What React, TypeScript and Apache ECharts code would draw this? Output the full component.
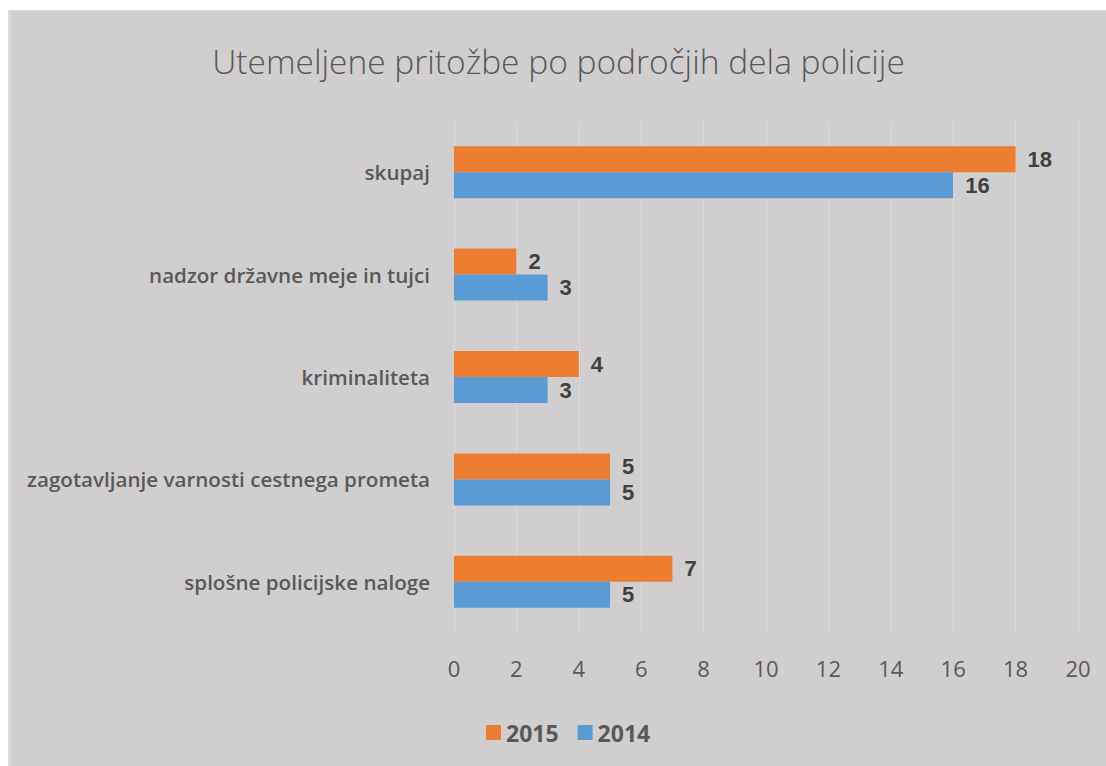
import React, { useEffect, useRef } from "react";
import * as echarts from "echarts";

const categories = [
  "splošne policijske naloge",
  "zagotavljanje varnosti cestnega prometa",
  "kriminaliteta",
  "nadzor državne meje in tujci",
  "skupaj",
];
const values2015 = [7, 5, 4, 2, 18];
const values2014 = [5, 5, 3, 3, 16];
const xTicks = { min: 0, max: 20, interval: 2 };

export default function App() {
  const ref = useRef<HTMLDivElement>(null);
  useEffect(() => {
    if (!ref.current) return;
    const chart = echarts.init(ref.current, null, { renderer: "svg" });
    const font = "'Open Sans', 'Noto Sans', sans-serif";
    const labelStyle = {
      show: true,
      position: "right" as const,
      distance: 12,
      color: "#404040",
      fontSize: 22,
      lineHeight: 24,
      fontWeight: "bold" as const,
      fontFamily: "'Liberation Sans', Arial, sans-serif",
    };
    chart.setOption({
      animation: false,
      backgroundColor: "#d0cece",
      title: {
        text: "Utemeljene pritožbe po področjih dela policije",
        left: "center",
        top: 28,
        textStyle: {
          color: "#595959",
          fontSize: 33.5,
          fontWeight: 300,
          fontFamily: font,
        },
      },
      legend: {
        data: ["2015", "2014"],
        top: 705,
        left: 470,
        itemWidth: 15,
        itemHeight: 15,
        itemGap: 19,
        icon: "rect",
        textStyle: {
          color: "#595959",
          fontSize: 23,
          fontWeight: "bold",
          fontFamily: font,
        },
      },
      grid: { left: 443, right: 28, top: 110, height: 512, containLabel: false },
      xAxis: {
        type: "value",
        min: xTicks.min,
        max: xTicks.max,
        interval: xTicks.interval,
        axisLine: { show: false },
        axisTick: { show: false },
        axisLabel: {
          color: "#595959",
          fontSize: 22,
          margin: 24,
          fontFamily: font,
        },
        splitLine: { show: true, lineStyle: { color: "#dcdcdc", width: 1 } },
      },
      yAxis: {
        type: "category",
        data: categories,
        axisLine: { show: false },
        axisTick: { show: false },
        axisLabel: {
          color: "#595959",
          fontSize: 20.6,
          fontWeight: 600,
          margin: 24,
          fontFamily: font,
        },
      },
      series: [
        {
          name: "2015",
          type: "bar",
          data: values2015,
          barWidth: 26,
          barGap: "0%",
          itemStyle: { color: "#ed7d31" },
          label: labelStyle,
        },
        {
          name: "2014",
          type: "bar",
          data: values2014,
          barWidth: 26,
          barGap: "0%",
          itemStyle: { color: "#5b9bd5" },
          label: labelStyle,
        },
      ],
    });
    return () => chart.dispose();
  }, []);
  return (
    <div
      ref={ref}
      style={{
        position: "absolute",
        left: 8,
        top: 10,
        width: 1098,
        height: 756,
        boxSizing: "border-box",
        borderLeft: "3px solid #d9d9d9",
        borderTop: "1px solid #d9d9d9",
      }}
    />
  );
}
